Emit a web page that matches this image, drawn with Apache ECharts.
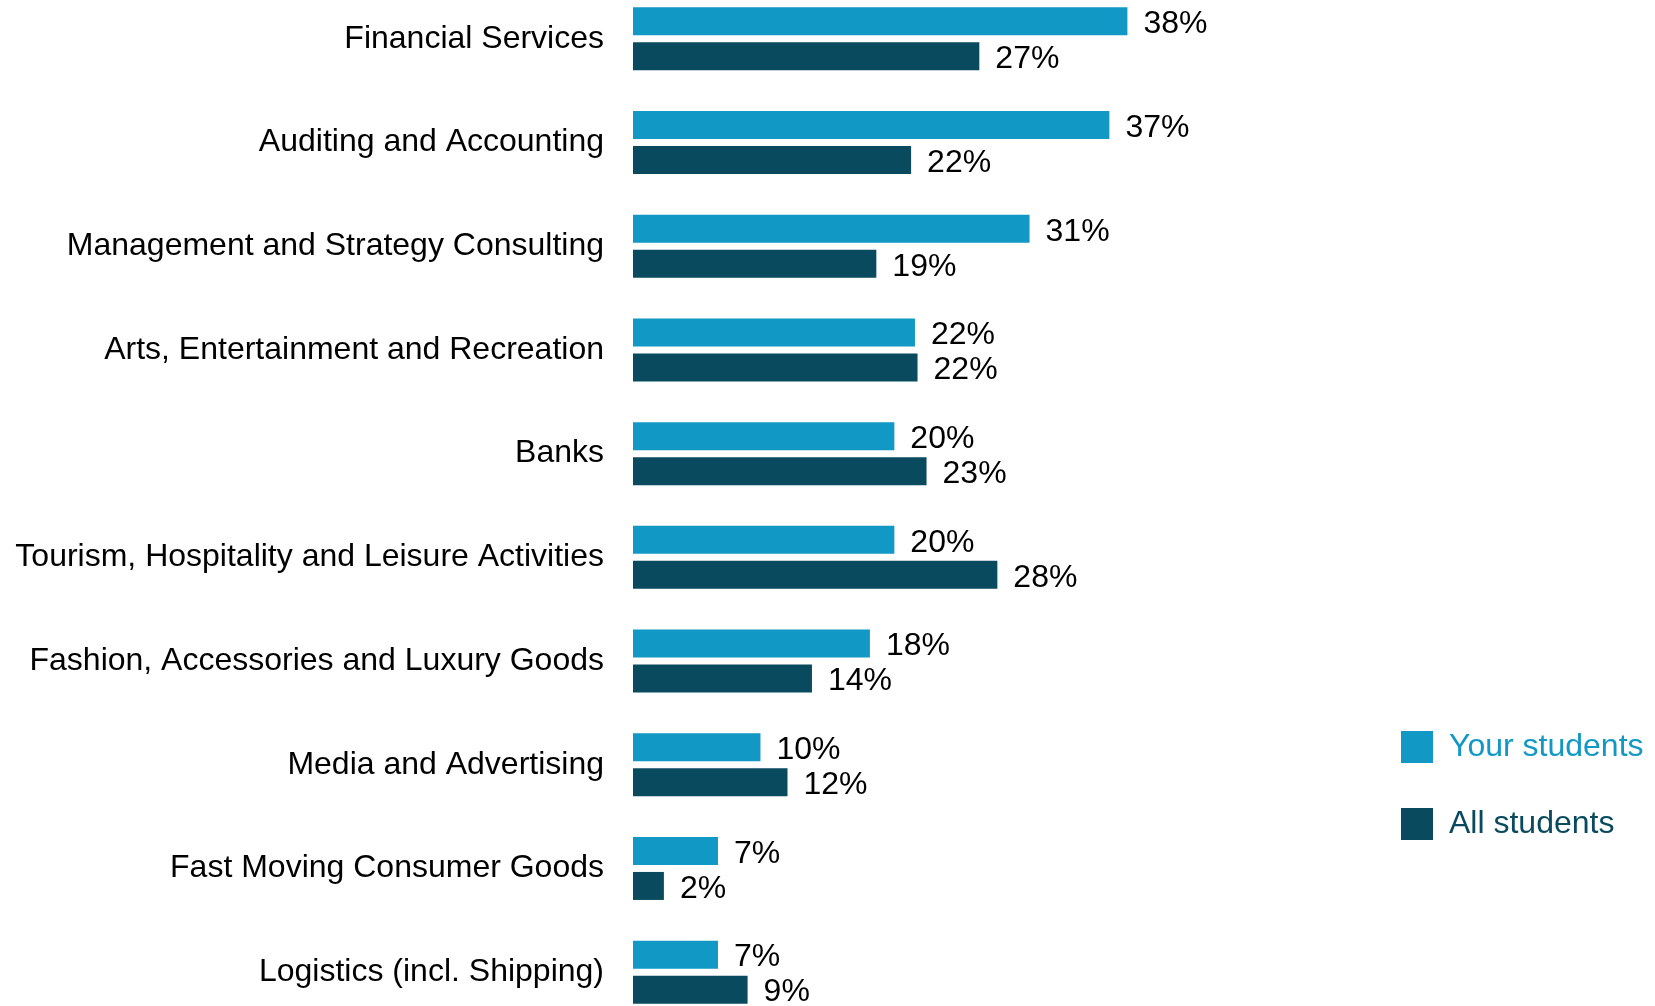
<!DOCTYPE html>
<html>
<head>
<meta charset="utf-8">
<script src="https://cdn.jsdelivr.net/npm/echarts@6/dist/echarts.min.js"></script>
<style>
html,body{margin:0;padding:0;background:#fff;overflow:hidden;width:1655px;height:1006px;}
#chart{position:absolute;left:0;top:-13px;width:1655px;height:1037px;}
</style>
</head>
<body>
<div id="chart"></div>
<script>
const categories = [
  "Financial Services",
  "Auditing and Accounting",
  "Management and Strategy Consulting",
  "Arts, Entertainment and Recreation",
  "Banks",
  "Tourism, Hospitality and Leisure Activities",
  "Fashion, Accessories and Luxury Goods",
  "Media and Advertising",
  "Fast Moving Consumer Goods",
  "Logistics (incl. Shipping)"
];
// values; labels show the rounded percentage
const yourStudents = [38.4, 37.0, 30.8, 21.9, 20.3, 20.3, 18.4, 9.9, 6.6, 6.6];
const allStudents = [26.9, 21.6, 18.9, 22.1, 22.8, 28.3, 13.9, 12.0, 2.4, 8.9];
const seriesNames = ["Your students", "All students"];
const colors = ["#1198c4", "#0a4a5f"];
const font = "Liberation Sans, Arial, sans-serif";

const chart = echarts.init(document.getElementById('chart'), null, {renderer: 'canvas'});
const labelCfg = {
  show: true, position: 'right', distance: 16, offset: [0, 3],
  formatter: p => Math.round(p.value) + '%',
  color: '#000', fontSize: 32, fontFamily: font
};
chart.setOption({
  animation: false,
  backgroundColor: '#fff',
  grid: {left: 633, top: 0, width: 515, height: 1037, containLabel: false},
  xAxis: {
    type: 'value', min: 0, max: 40, show: false
  },
  yAxis: {
    type: 'category', data: categories, inverse: true,
    axisLine: {show: false}, axisTick: {show: false}, splitLine: {show: false},
    axisLabel: {color: '#000', fontSize: 32, fontFamily: font, margin: 29, padding: [4, 0, 0, 0]}
  },
  legend: {
    orient: 'vertical', left: 1396, top: 739,
    itemWidth: 32, itemHeight: 32, itemGap: 45, icon: 'rect',
    textStyle: {fontSize: 32, fontFamily: font, padding: [2, 0, 0, 11]},
    data: [
      {name: seriesNames[0], textStyle: {color: colors[0]}},
      {name: seriesNames[1], textStyle: {color: colors[1]}}
    ]
  },
  series: [
    {name: seriesNames[0], type: 'bar', data: yourStudents, barWidth: 28, barGap: '25%',
     itemStyle: {color: colors[0]}, label: labelCfg},
    {name: seriesNames[1], type: 'bar', data: allStudents, barWidth: 28, barGap: '25%',
     itemStyle: {color: colors[1]}, label: labelCfg}
  ]
});
</script>
</body>
</html>
